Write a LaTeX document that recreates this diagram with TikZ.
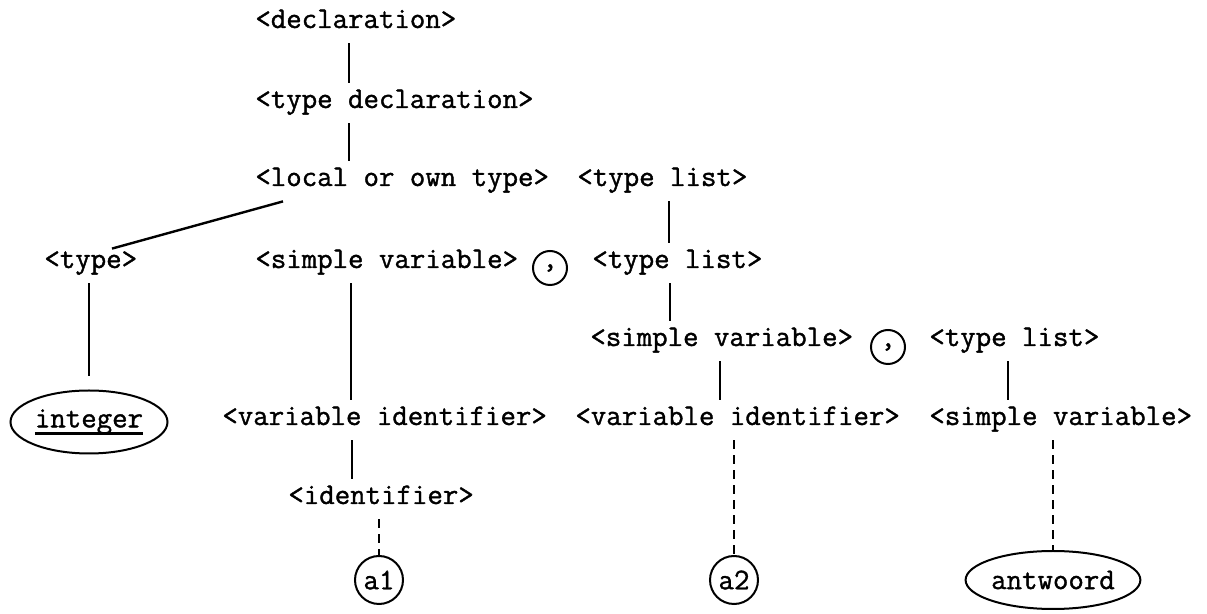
\documentclass[tikz,border=0pt]{standalone}
\usepackage{fontspec}
\newfontfamily\typewr{Latin Modern Mono}[FakeBold=1.2]
\newcommand\ulword[1]{\setbox0\hbox{#1}\rlap{\vrule width\wd0 height -2.4pt depth 3.6pt}\box0}
\usetikzlibrary{shapes.geometric}
\begin{document}
\begin{tikzpicture}[x=0.5pt, y=-0.5pt,
            sym/.style={font=\fontsize{15}{18}\selectfont\typewr, anchor=west, inner xsep=0pt, inner ysep=5pt, text height=7.5pt, text depth=2.5pt},
            stem/.style={line width=1.2pt},
            lex/.style={line width=1.1pt, dash pattern=on 4.5pt off 3pt},
            leaf/.style={draw, circle, line width=1pt, minimum size=24pt, inner sep=0pt, font=\fontsize{15}{18}\selectfont\typewr},
            word/.style={draw, ellipse, line width=1pt, inner sep=0pt, font=\fontsize{15}{18}\selectfont\typewr},
            comma/.style={draw, circle, line width=1pt, minimum size=17pt, inner sep=0pt, font=\fontsize{15}{18}\selectfont\typewr}
        ]
            \useasboundingbox (0,0) rectangle (1207,614);

            % Upper part of the tree
            \node[sym] (decl) at (255, 23) {<declaration>};
            \node[sym] (tdecl) at (255, 103) {<type declaration>};
            \node[sym] (lot) at (255, 181) {<local or own type>};
            \node[sym] (tl1) at (577, 181) {<type list>};

            % Second level
            \node[sym] (typ) at (44, 263) {<type>};
            \node[sym] (sv1) at (255, 263) {<simple variable>};
            \node[comma] (c1) at (550, 268) {,};
            \node[sym] (tl2) at (592, 263) {<type list>};

            % Third level
            \node[sym] (sv2) at (590, 341) {<simple variable>};
            \node[comma] (c2) at (888, 347) {,};
            \node[sym] (tl3) at (929, 341) {<type list>};

            % Fourth level
            \node[word, minimum width=78.5pt, minimum height=31.5pt] (int) at (89, 422) {\ulword{integer}};
            \node[sym] (vi1) at (222, 420) {<variable identifier>};
            \node[sym] (vi2) at (575, 420) {<variable identifier>};
            \node[sym] (sv3) at (929, 420) {<simple variable>};
            \node[sym] (idf) at (288, 499) {<identifier>};

            % Terminal symbols
            \node[leaf] (a1) at (379, 580) {a1};
            \node[leaf] (a2) at (734, 580) {a2};
            \node[word, minimum width=79pt, minimum height=29pt] (ant) at (1053, 580) {antwoord};

            % Branches
            \draw[stem] ([xshift=47pt]decl.south west) -- ([xshift=47pt]tdecl.north west);
            \draw[stem] ([xshift=47pt]tdecl.south west) -- ([xshift=47pt]lot.north west);
            \draw[stem] ([xshift=14pt]lot.south west) -- ([xshift=34pt, yshift=-3pt]typ.north west);
            \draw[stem, shorten >=6.5pt] ([xshift=22.5pt]typ.south west) -- (int.north);
            \draw[stem] ([xshift=48pt]sv1.south west) -- ([xshift=64.5pt]vi1.north west);
            \draw[stem] ([xshift=65pt]vi1.south west) -- ([xshift=32pt]idf.north west);
            \draw[stem] ([xshift=46pt]tl1.south west) -- ([xshift=38.5pt]tl2.north west);
            \draw[stem] ([xshift=39pt]tl2.south west) -- ([xshift=40pt]sv2.north west);
            \draw[stem] ([xshift=65pt]sv2.south west) -- ([xshift=72.5pt]vi2.north west);
            \draw[stem] ([xshift=39.5pt]tl3.south west) -- ([xshift=39.5pt]sv3.north west);

            % Dashed links to the terminals
            \draw[lex] ([xshift=45.5pt]idf.south west) -- (a1.north);
            \draw[lex] ([xshift=79.5pt]vi2.south west) -- (a2.north);
            \draw[lex] ([xshift=62pt]sv3.south west) -- (ant.north);
        \end{tikzpicture}
\end{document}
